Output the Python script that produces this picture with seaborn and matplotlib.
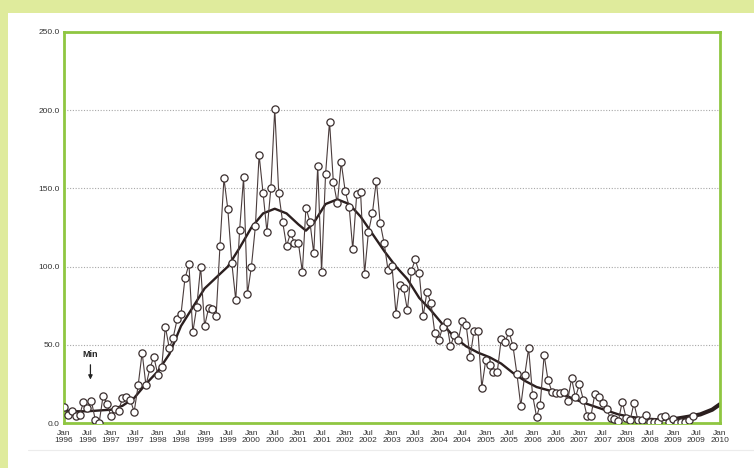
import matplotlib
matplotlib.use("Agg")
import pandas as pd
import matplotlib.pyplot as plt
import matplotlib.dates as mdates
import matplotlib.ticker as mticker
from matplotlib.patches import Rectangle
import seaborn as sns

# monthly values, Jan 1996 onwards
y1996 = [10, 5, 7.9, 4.5, 5, 13.4, 9.4, 14.3, 1.9, 0.2, 17.5, 12.1]
y1997 = [4.5, 9, 7.9, 15.8, 16.8, 14.7, 7.2, 24, 45, 24, 35, 42.4]
y1998 = [31, 36, 61.6, 47.7, 54.6, 66.3, 69.5, 92.5, 101.5, 58, 74.4, 100]
y1999 = [62, 73.3, 72.7, 68.4, 113.4, 156.4, 136.8, 102.5, 78.6, 123.4, 157, 82.5]
y2000 = [100, 125.7, 171.4, 146.9, 122.3, 150.5, 200.8, 146.9, 128.3, 113.2, 121.3, 115.3]
y2001 = [115.3, 96.7, 137.7, 128.7, 108.5, 164.3, 96.7, 159, 192.7, 153.9, 140.5, 166.7]
y2002 = [148.3, 138.3, 111.1, 146.4, 147.5, 95.3, 121.9, 134.1, 155, 127.7, 114.9, 97.8]
y2003 = [100.6, 69.7, 88.2, 86.1, 72.2, 97.2, 104.6, 96.1, 68.4, 84, 76.5, 57.4]
y2004 = [53, 61.6, 64.8, 49.2, 56.3, 53, 65.4, 62.7, 42, 58.8, 58.8, 22.6]
y2005 = [40.3, 37.1, 32.8, 32.8, 53.5, 52, 58.4, 49.2, 31.3, 10.9, 30.7, 47.7]
y2006 = [17.9, 4, 11.5, 43.5, 27.5, 20, 19.4, 19, 20, 14, 28.5, 16.4]
y2007 = [24.7, 14.7, 4.5, 4.5, 18.5, 16.4, 12.6, 8.8, 3, 2.6, 1.5, 13.6]
y2008 = [3, 1.9, 12.6, 1.9, 1.9, 5.1, 0.8, 0.4, 0.8, 4, 4.7, 0.8]
y2009 = [2.4, 0.2, 0.4, 0.8, 2, 4.7]

monthly = (y1996 + y1997 + y1998 + y1999 + y2000 + y2001 + y2002 + y2003
           + y2004 + y2005 + y2006 + y2007 + y2008 + y2009)

# smoothed curve, months after Jan 1996
smooth_month = [0, 3, 6, 9, 12, 15, 18, 21, 24, 27, 30, 33, 36, 39, 42, 45, 48,
                51, 54, 57, 60, 62, 64, 67, 70, 73, 76, 79, 82, 85, 88, 91, 94,
                97, 100, 103, 106, 109, 112, 115, 118, 121, 124, 127, 130, 133,
                136, 139, 142, 145, 148, 151, 154, 157, 160, 163, 166, 168]
smooth_val = [8, 7.5, 7.5, 8, 8.5, 11, 16, 25, 33, 44, 62, 74, 86, 93, 100, 112,
              125, 134, 137, 134, 127, 123, 128, 140, 143, 140, 132, 121, 110,
              100, 92, 80, 72, 63, 55, 49, 45, 42, 38, 32, 27, 23, 21, 19, 16,
              13, 10.5, 8, 5.5, 4, 3, 2.5, 2.2, 2.8, 4, 5.5, 8.5, 12]
tail_from = 157  # thicker part at the end

start = pd.Timestamp("1996-01-01")
dates = pd.date_range(start, periods=len(monthly), freq="MS")
df = pd.DataFrame({"date": dates, "value": monthly})
sm = pd.DataFrame({"date": [start + pd.DateOffset(months=m) for m in smooth_month],
                   "value": smooth_val, "m": smooth_month})

sns.set_style("white")
plt.rcParams["font.family"] = ["Liberation Sans", "DejaVu Sans"]

fig = plt.figure(figsize=(7.54, 4.68), dpi=100)
fig.patch.set_facecolor("#dfeb9c")
fig.add_artist(Rectangle((8 / 754, 0), 1, 455 / 468, transform=fig.transFigure,
                         facecolor="white", edgecolor="none", zorder=-10))
fig.add_artist(plt.Line2D([28 / 754, 1], [18 / 468, 18 / 468],
                          transform=fig.transFigure, color="#ececec", lw=0.8,
                          zorder=-9))
ax = fig.add_axes([64 / 754, 45 / 468, 656 / 754, 391 / 468])
ax.set_facecolor("white")

ax.yaxis.grid(True, color="#a8a8a8", linestyle=(0, (1, 1.5)), linewidth=0.8)
ax.set_axisbelow(True)

sns.lineplot(data=sm[sm["m"] <= tail_from], x="date", y="value", ax=ax,
             color="#2b1f1f", linewidth=1.7, zorder=2)
sns.lineplot(data=sm[sm["m"] >= tail_from], x="date", y="value", ax=ax,
             color="#2b1f1f", linewidth=3.0, zorder=2)
sns.lineplot(data=df, x="date", y="value", ax=ax, color="#4a3c3c", linewidth=0.8,
             marker="o", markersize=5.2, markerfacecolor="white",
             markeredgecolor="#3a2e2e", markeredgewidth=0.9, zorder=3)

ax.set_xlim(start, pd.Timestamp("2010-01-01"))
ax.set_ylim(0, 250)
ax.set_xlabel("")
ax.set_ylabel("")

ax.yaxis.set_major_locator(mticker.MultipleLocator(50))
ax.yaxis.set_major_formatter(mticker.FormatStrFormatter("%.1f"))
ax.xaxis.set_major_locator(mdates.MonthLocator(bymonth=[1, 7]))
ax.xaxis.set_major_formatter(mdates.DateFormatter("%b\n%Y"))
ax.xaxis.set_minor_locator(mdates.MonthLocator(bymonth=[3, 5, 9, 11]))

ax.tick_params(axis="y", length=0, labelsize=6, labelcolor="#333333", pad=3)
ax.tick_params(axis="x", which="both", direction="out", length=2, width=0.6,
               color="#999999", labelsize=6, labelcolor="#333333", pad=3)
for lab in ax.get_xticklabels():
    lab.set_linespacing(1.0)

for s in ax.spines.values():
    s.set_color("#8fc641")
    s.set_linewidth(2)

# annotation at the cycle minimum
xmin = pd.Timestamp("1996-07-25")
ax.text(xmin, 44, "Min", ha="center", va="center", fontsize=6.5,
        fontweight="bold", color="#222222")
ax.annotate("", xy=(xmin, 26), xytext=(xmin, 39),
            arrowprops=dict(arrowstyle="-|>", color="#222222", lw=0.9,
                            mutation_scale=6))

fig.savefig("out.png", dpi=100, facecolor=fig.get_facecolor())
